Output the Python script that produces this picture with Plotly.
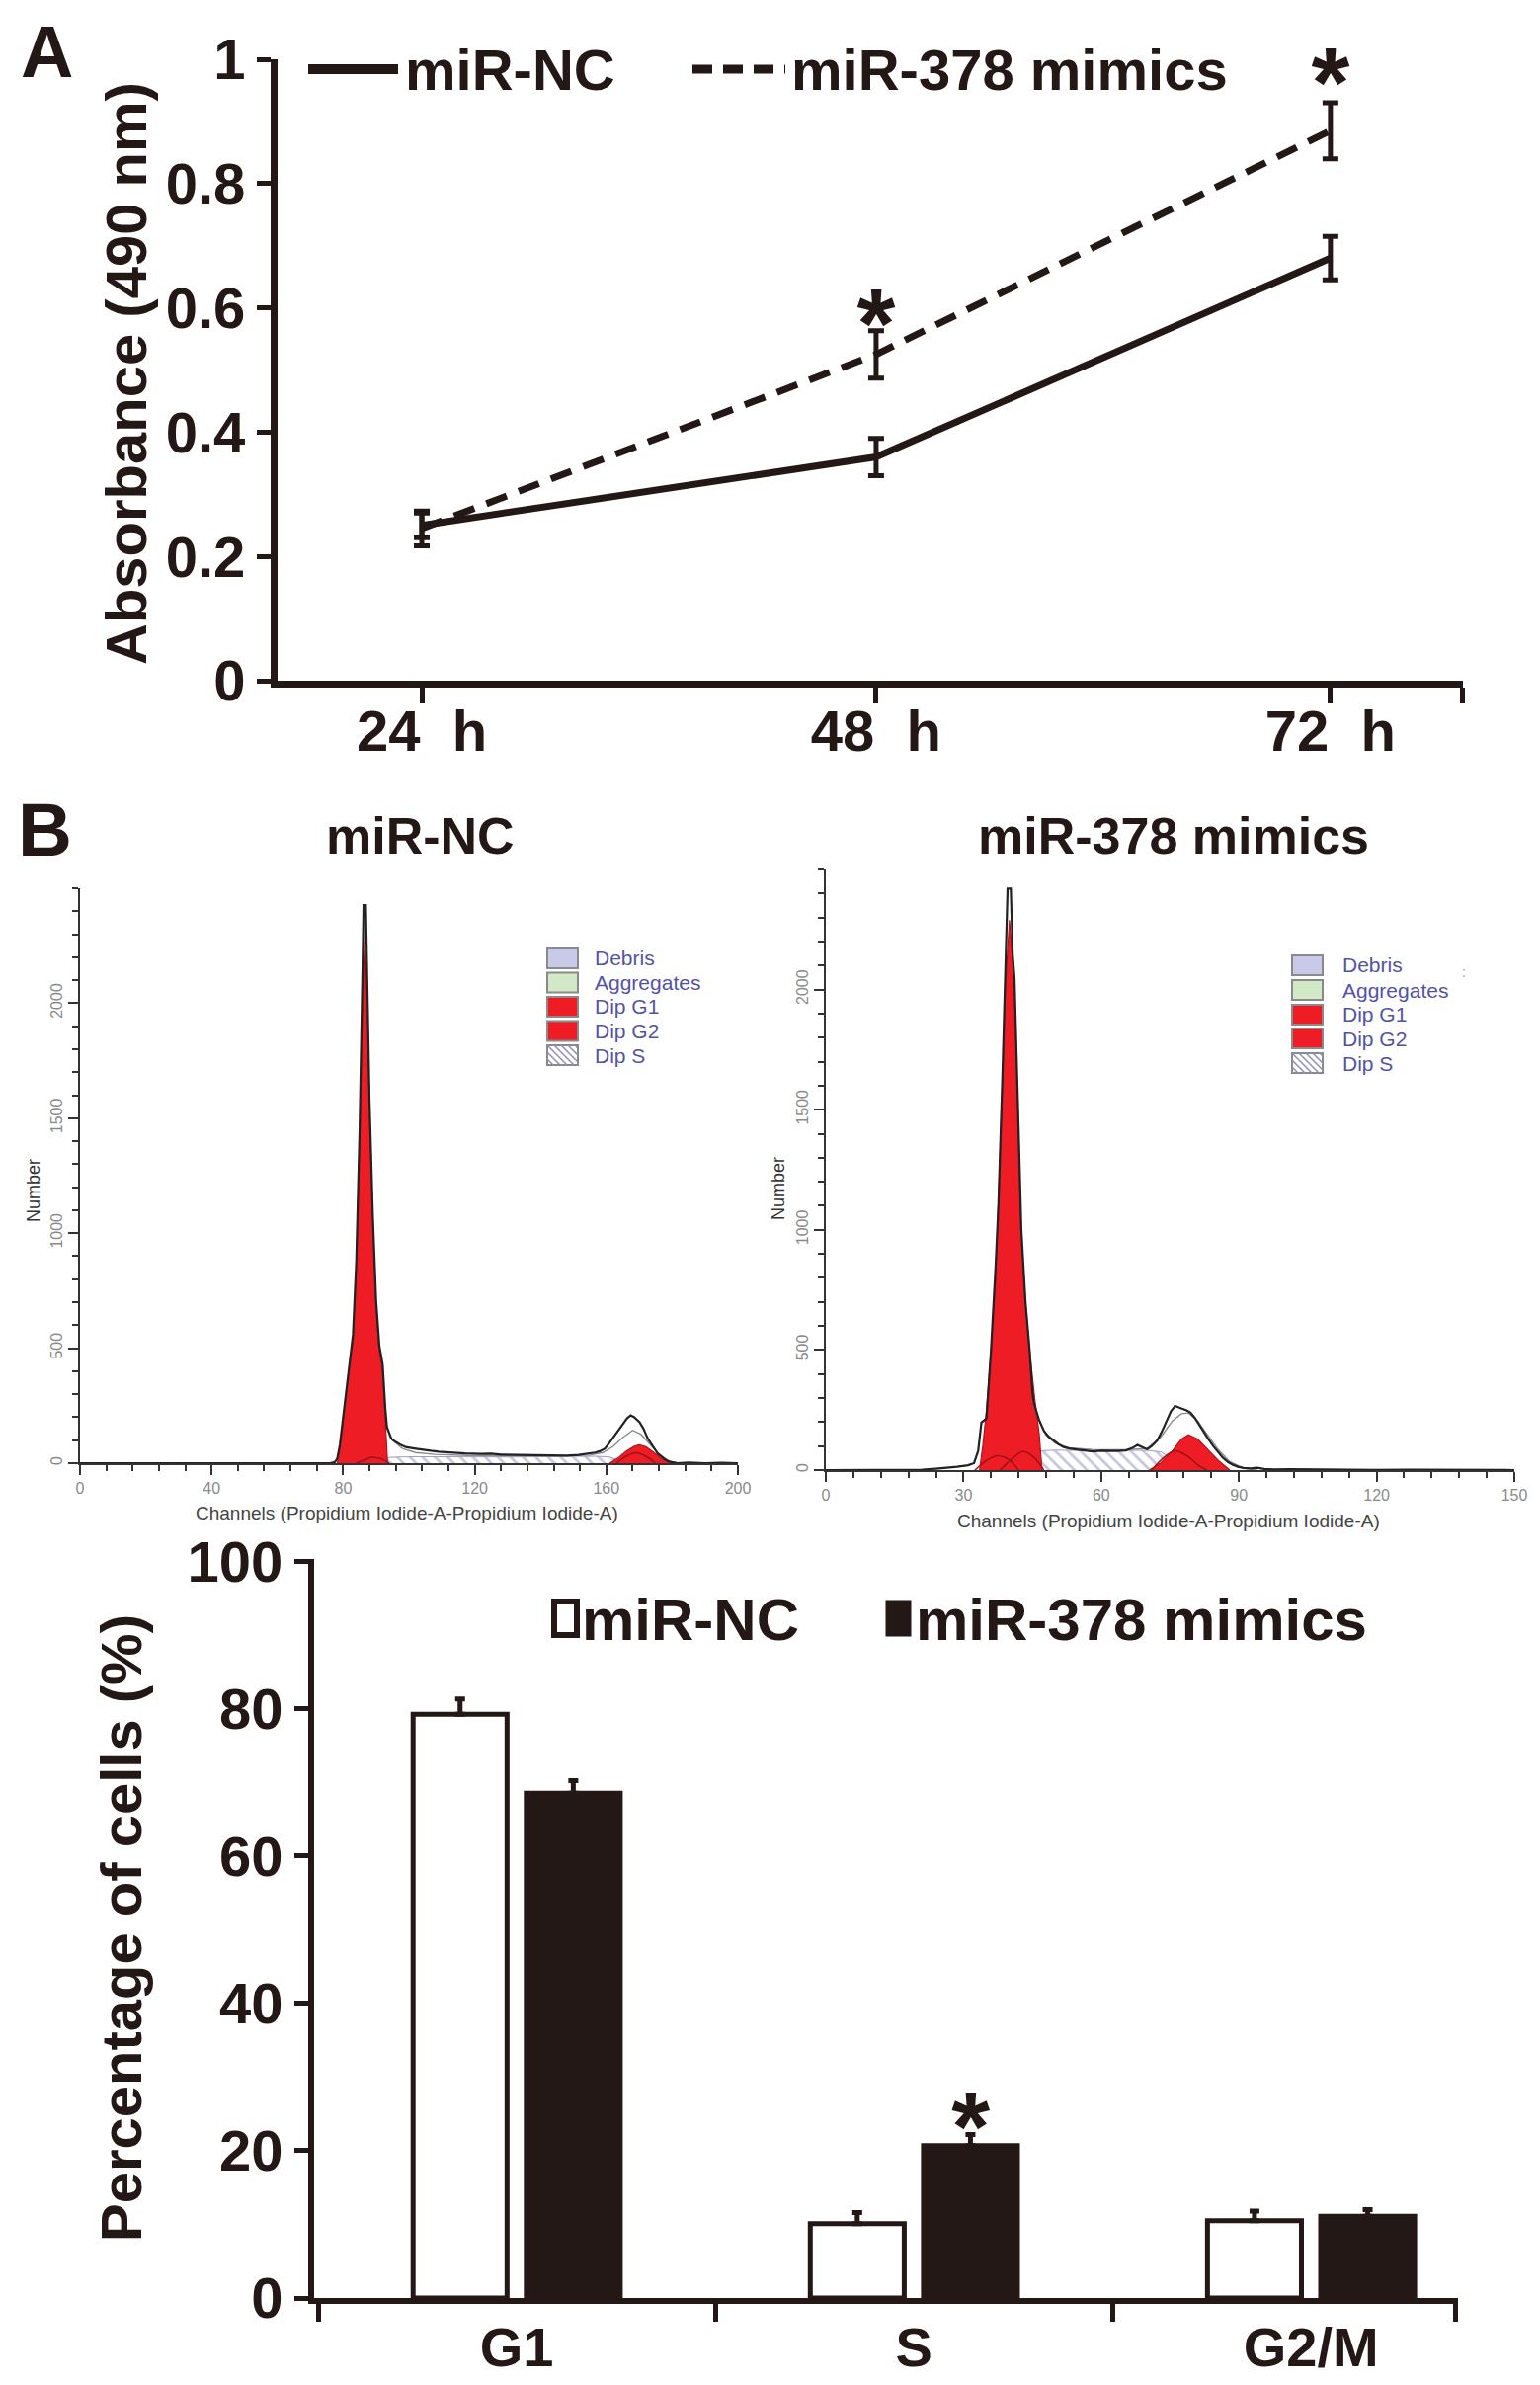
import plotly.graph_objects as go

PAGE_W, PAGE_H = 1559, 2414
OFF = 8  # default body margin of the written page
W, H = PAGE_W - OFF, PAGE_H - OFF
INK = "#231815"
RED = "#ee1c25"
DARKRED = "#9c1218"
SANS = "Liberation Sans, Arial, Helvetica, sans-serif"

# ---- panel A: absorbance at 490 nm
hours = [24, 48, 72]
hour_labels = ["24  h", "48  h", "72  h"]
nc_abs = [0.25, 0.36, 0.68]
nc_abs_err = [0.02, 0.03, 0.035]
mimic_abs = [0.245, 0.525, 0.885]
mimic_abs_err = [0.028, 0.038, 0.045]
abs_ticks = [0, 0.2, 0.4, 0.6, 0.8, 1]
abs_tick_labels = ["0", "0.2", "0.4", "0.6", "0.8", "1"]
abs_star_x = [48, 72]
abs_star_y = [0.56, 0.948]

# ---- panel B: flow cytometry histograms (channel, count)
nc_total = [(0, 0), (60, 0), (76, 0), (77.5, 5), (78.2, 20), (79, 80), (80, 200), (81, 340),
            (82, 450), (83, 560), (84, 880), (85, 1450), (85.9, 2150), (86.2, 2427), (86.9, 2427),
            (87.2, 2150), (88, 1580), (89, 1080), (90, 710), (91, 510), (92, 430), (92.8, 240),
            (93.3, 158), (94.6, 107), (96, 92), (97.6, 79), (99, 70), (101.6, 64), (104, 58),
            (106.6, 54), (109, 50), (111.6, 47), (114, 45), (117, 42), (121.6, 40), (125, 41),
            (128, 37), (131.6, 36), (135, 35), (138, 33), (141.6, 32), (145, 34), (148, 33),
            (151.6, 36), (154, 40), (156.6, 46), (158, 52), (159.6, 64), (161, 90), (162.6, 122),
            (164, 150), (165.1, 172), (166.3, 195), (167.4, 208), (168.5, 200), (170.1, 179),
            (171.3, 150), (172.6, 107), (174, 75), (175.6, 43), (177.5, 20), (179.1, 7),
            (181.6, 0), (185, 3), (190, 0), (195, 2), (200, 0)]
nc_g1 = [(78.2, 0), (79, 60), (80, 180), (81, 320), (82, 430), (83, 530), (84, 850), (85, 1400),
         (86, 2050), (86.6, 2269), (87.2, 2050), (88, 1550), (89, 1050), (90, 680), (91, 480),
         (92, 400), (92.8, 200), (93.5, 0)]
nc_g2 = [(161, 0), (163.5, 22), (166, 52), (168.5, 74), (170, 80), (172, 72), (174.5, 46),
         (177, 18), (179.5, 3), (181, 0)]
nc_s = [(90, 0), (91, 14), (93, 24), (97, 27), (103, 28), (110, 27), (120, 28), (130, 27),
        (140, 28), (150, 29), (157, 30), (161, 27), (163.5, 14), (166, 0)]
nc_arcs = [[(84, 0), (86.5, 14), (89, 26), (91.5, 19), (94, 0)],
           [(163, 0), (166, 30), (169, 45), (172, 30), (175, 0)]]
nc_fit = [(93.3, 150), (95, 100), (98, 64), (102, 46), (108, 38), (118, 33), (130, 31),
          (145, 31), (155, 35), (159, 46), (162, 72), (165, 112), (168, 143), (170.5, 126),
          (173, 86), (176, 40), (179, 9), (182, 0)]
nc_means = [87.2, 167.7]

mim_total = [(0, 0), (18, 0), (21, 2), (24, 6), (26, 9), (28.6, 14), (31, 20), (32.3, 29),
             (33.2, 80), (33.9, 198), (35, 215), (36, 500), (37, 850), (37.6, 1100), (38.5, 1650),
             (39.1, 2050), (39.6, 2420), (40.3, 2420), (40.7, 2150), (41.1, 2050), (42, 1450),
             (42.6, 1000), (43.5, 700), (44.4, 500), (45, 330), (45.3, 281), (46.4, 212),
             (47.5, 164), (48.5, 140), (49.6, 123), (50.7, 108), (51.8, 96), (53, 90), (54.6, 86),
             (56.5, 81), (58.2, 78), (60, 81), (61.8, 79), (63.5, 80), (65.4, 82), (66.8, 92),
             (67.9, 105), (69, 95), (70, 86), (71, 100), (72.2, 123), (73.2, 160), (74.3, 205),
             (75.2, 245), (76.1, 267), (77, 262), (77.6, 256), (78.5, 250), (79.4, 240),
             (80.3, 220), (81.2, 192), (82.2, 160), (83.3, 130), (84.4, 100), (85.5, 75),
             (86.5, 52), (87.6, 34), (88.7, 22), (89.8, 14), (91, 9), (92.6, 7), (94, 10),
             (95.5, 5), (97.6, 3), (101, 4), (105, 3), (110, 2), (115, 3), (120, 1), (127, 2),
             (135, 1), (140, 0), (150, 0)]
mim_g1 = [(33.5, 0), (34.2, 100), (35, 250), (36, 500), (37, 800), (37.4, 1000), (38.5, 1600),
          (39.1, 2000), (40, 2289), (40.6, 2150), (41.1, 2000), (42, 1400), (42.5, 1000),
          (43.5, 700), (44.4, 500), (45.5, 300), (46.5, 150), (47.1, 0)]
mim_g2 = [(70.5, 0), (73, 30), (75.5, 80), (77.5, 130), (79, 147), (81, 130), (83, 90),
          (85.5, 40), (88, 0)]
mim_s = [(44, 0), (45, 55), (46.5, 80), (50, 83), (55, 82), (60, 82), (65, 81), (70, 82),
         (73, 76), (75, 52), (77, 22), (79, 0)]
mim_arcs = [[(32.5, 0), (35, 40), (37.5, 60), (40, 42), (42, 0)],
            [(38, 0), (40.5, 45), (43, 78), (45.5, 50), (47.5, 0)],
            [(71, 0), (73.5, 50), (76, 80), (78.5, 62), (81, 22), (83, 0)]]
mim_fit = [(45, 290), (46.5, 205), (48, 145), (50, 112), (53, 93), (58, 86), (65, 84), (70, 90),
           (73, 138), (75.5, 205), (77.5, 235), (79, 238), (81, 205), (83, 150), (85.5, 85),
           (88, 35), (91, 8), (94, 0)]
mim_means = [40.2, 76.2]

model_names = ["Debris", "Aggregates", "Dip G1", "Dip G2", "Dip S"]
model_colors = ["#c9c9e9", "#d2e9c7", RED, RED, "white"]

# ---- panel B: cell-cycle distribution (%)
phases = ["G1", "S", "G2/M"]
nc_pct = [79.2, 10.1, 10.5]
nc_pct_err = [2.1, 1.5, 1.3]
mimic_pct = [68.5, 20.7, 11.1]
mimic_pct_err = [1.7, 1.5, 0.9]
pct_star_phase = [1.143]
pct_star_y = [22.0]


# page pixel -> paper fraction
def px(x):
    return (x - OFF) / W


def py(y):
    return 1 - (y - OFF) / H


def unzip(pairs):
    return [p[0] for p in pairs], [p[1] for p in pairs]


fig = go.Figure()

# panel A lines
for vals, errs, dash in [(nc_abs, nc_abs_err, "solid"), (mimic_abs, mimic_abs_err, "22px,13px")]:
    fig.add_trace(go.Scatter(
        x=hours, y=vals, mode="lines", line=dict(color=INK, width=7, dash=dash),
        error_y=dict(type="data", array=errs, color=INK, thickness=5, width=8),
        xaxis="x", yaxis="y", showlegend=False))
fig.add_trace(go.Scatter(
    x=abs_star_x, y=abs_star_y, mode="text", text=["*"] * len(abs_star_x),
    textfont=dict(family=SANS, size=100, color=INK, weight="bold"),
    xaxis="x", yaxis="y", showlegend=False, cliponaxis=False))


def add_hist(xa, ya, s_band, g1, g2, arcs, fit, total, means, mark_y):
    x, y = unzip(s_band)
    fig.add_trace(go.Scatter(
        x=x, y=y, mode="lines", fill="tozeroy", line=dict(color="#9d9dc8", width=1),
        fillpattern=dict(shape="\\", fgcolor="#8c8cc2", bgcolor="white", size=9, solidity=0.3),
        xaxis=xa, yaxis=ya, showlegend=False))
    for comp in (g1, g2):
        x, y = unzip(comp)
        fig.add_trace(go.Scatter(
            x=x, y=y, mode="lines", fill="tozeroy", fillcolor=RED,
            line=dict(color="#b3121a", width=1.2), xaxis=xa, yaxis=ya, showlegend=False))
    for arc in arcs:
        x, y = unzip(arc)
        fig.add_trace(go.Scatter(
            x=x, y=y, mode="lines", line=dict(color=DARKRED, width=1.5, shape="spline"),
            xaxis=xa, yaxis=ya, showlegend=False))
    x, y = unzip(fit)
    fig.add_trace(go.Scatter(
        x=x, y=y, mode="lines", line=dict(color="#8a8a8a", width=1.4),
        xaxis=xa, yaxis=ya, showlegend=False))
    x, y = unzip(total)
    fig.add_trace(go.Scatter(
        x=x, y=y, mode="lines", line=dict(color="#222222", width=2.2),
        xaxis=xa, yaxis=ya, showlegend=False))
    fig.add_trace(go.Scatter(
        x=means, y=[mark_y] * len(means), mode="markers",
        marker=dict(symbol="triangle-up", size=20, color="#111111"),
        xaxis=xa, yaxis=ya, showlegend=False, cliponaxis=False))


add_hist("x2", "y2", nc_s, nc_g1, nc_g2, nc_arcs, nc_fit, nc_total, nc_means, -46)
add_hist("x3", "y3", mim_s, mim_g1, mim_g2, mim_arcs, mim_fit, mim_total, mim_means, -44)

# bar chart
fig.add_trace(go.Bar(
    x=list(range(len(phases))), y=nc_pct,
    marker=dict(color="white", line=dict(color=INK, width=5)),
    error_y=dict(type="data", symmetric=False, array=nc_pct_err, arrayminus=[0] * len(phases),
                 color=INK, thickness=5, width=5),
    xaxis="x4", yaxis="y4", showlegend=False))
fig.add_trace(go.Bar(
    x=list(range(len(phases))), y=mimic_pct,
    marker=dict(color=INK, line=dict(color=INK, width=5)),
    error_y=dict(type="data", symmetric=False, array=mimic_pct_err, arrayminus=[0] * len(phases),
                 color=INK, thickness=5, width=5),
    xaxis="x4", yaxis="y4", showlegend=False))
fig.add_trace(go.Scatter(
    x=pct_star_phase, y=pct_star_y, mode="text", text=["*"],
    textfont=dict(family=SANS, size=100, color=INK, weight="bold"),
    xaxis="x4", yaxis="y4", showlegend=False, cliponaxis=False))

bold_tick = dict(family=SANS, size=58, color=INK, weight="bold")
hist_tick = dict(family=SANS, size=16, color="#8a8a8a")
hist_common = dict(showline=True, linecolor="#333333", linewidth=2, ticks="outside", ticklen=10,
                   tickwidth=2, tickcolor="#333333", tickfont=hist_tick, showgrid=False,
                   zeroline=False, automargin=False)

fig.update_layout(
    width=W, height=H, margin=dict(l=0, r=0, t=0, b=0, autoexpand=False),
    paper_bgcolor="white", plot_bgcolor="white",
    barmode="group", bargap=0.43, bargroupgap=0.17,
    xaxis=dict(domain=[px(281), px(1481)], range=[16.38, 79], anchor="y",
               tickmode="array", tickvals=hours + [78.95], ticktext=hour_labels + [""],
               showline=True, linecolor=INK, linewidth=7, ticks="outside", ticklen=16,
               tickwidth=5, tickcolor=INK, tickfont=bold_tick, ticklabelstandoff=-22,
               showgrid=False, zeroline=False, automargin=False),
    yaxis=dict(domain=[py(689), py(60)], range=[0, 1], anchor="x",
               tickmode="array", tickvals=abs_ticks, ticktext=abs_tick_labels,
               showline=True, linecolor=INK, linewidth=7, ticks="outside", ticklen=14,
               tickwidth=5, tickcolor=INK, tickfont=bold_tick, showgrid=False, zeroline=False,
               automargin=False),
    xaxis2=dict(domain=[px(81), px(747)], range=[0, 200], anchor="y2", dtick=40, tick0=0,
                minor=dict(dtick=8, tick0=0, ticks="outside", ticklen=6, tickwidth=1.5,
                           tickcolor="#333333"), **hist_common),
    yaxis2=dict(domain=[py(1481), py(899)], range=[0, 2500], anchor="x2", tickmode="array",
                tickvals=[0, 500, 1000, 1500, 2000], tickangle=-90,
                minor=dict(dtick=100, tick0=0, ticks="outside", ticklen=6, tickwidth=1.5,
                           tickcolor="#333333"), **hist_common),
    xaxis3=dict(domain=[px(836), px(1533)], range=[0, 150], anchor="y3", dtick=30, tick0=0,
                minor=dict(dtick=6, tick0=0, ticks="outside", ticklen=6, tickwidth=1.5,
                           tickcolor="#333333"), **hist_common),
    yaxis3=dict(domain=[py(1488), py(880)], range=[0, 2500], anchor="x3", tickmode="array",
                tickvals=[0, 500, 1000, 1500, 2000], tickangle=-90,
                minor=dict(dtick=100, tick0=0, ticks="outside", ticklen=6, tickwidth=1.5,
                           tickcolor="#333333"), **hist_common),
    xaxis4=dict(domain=[px(318), px(1476)], range=[-0.51, 2.37], anchor="y4",
                tickmode="array", tickvals=list(range(len(phases))), ticktext=phases,
                showline=True, linecolor=INK, linewidth=6, ticks="outside", ticklen=0,
                tickcolor=INK, tickfont=dict(family=SANS, size=56, color=INK, weight="bold"),
                ticklabelstandoff=-4,
                minor=dict(tickmode="array", tickvals=[-0.5, 0.5, 1.5, 2.365], ticks="outside",
                           ticklen=18, tickwidth=5, tickcolor=INK),
                showgrid=False, zeroline=False, automargin=False),
    yaxis4=dict(domain=[py(2326), py(1578)], range=[0, 100.3], anchor="x4",
                tickmode="array", tickvals=[0, 20, 40, 60, 80, 100],
                showline=True, linecolor=INK, linewidth=6, ticks="outside", ticklen=14,
                tickwidth=5, tickcolor=INK, tickfont=bold_tick, showgrid=False, zeroline=False,
                automargin=False),
)

ann = []
shapes = []


def text(x, y, s, size, color=INK, bold=True, anchor="center", angle=0, vanchor="middle"):
    ann.append(dict(x=px(x), y=py(y), xref="paper", yref="paper", text=s, showarrow=False,
                    xanchor=anchor, yanchor=vanchor, textangle=angle,
                    font=dict(family=SANS, size=size, color=color,
                              weight="bold" if bold else "normal")))


text(47, 9, "A", 74, vanchor="top")
text(45, 840, "B", 76)
text(127, 378, "Absorbance (490 nm)", 58, angle=-90)
text(122, 1952, "Percentage of cells (%)", 58, angle=-90)
text(425, 846, "miR-NC", 52)
text(1188, 846, "miR-378 mimics", 52)
text(412, 1531, "Channels (Propidium Iodide-A-Propidium Iodide-A)", 19, color="#444444", bold=False)
text(1183, 1539, "Channels (Propidium Iodide-A-Propidium Iodide-A)", 19, color="#444444", bold=False)
text(34, 1205, "Number", 18, color="#333333", bold=False, angle=-90)
text(788, 1203, "Number", 18, color="#333333", bold=False, angle=-90)
text(1482, 984, ":", 14, color="#9a9a9a", bold=False)

# panel A legend
shapes.append(dict(type="line", xref="paper", yref="paper", x0=px(312), x1=px(403), y0=py(70),
                   y1=py(70), line=dict(color=INK, width=10)))
shapes.append(dict(type="line", xref="paper", yref="paper", x0=px(701), x1=px(795), y0=py(70),
                   y1=py(70), line=dict(color=INK, width=9, dash="20px,11px")))
text(408, 70, "miR-NC", 58, anchor="left")
text(799, 70, "miR-378 mimics", 58, anchor="left")

# bar legend
shapes.append(dict(type="rect", xref="paper", yref="paper", x0=px(561), x1=px(584), y0=py(1621),
                   y1=py(1655), fillcolor="white", line=dict(color=INK, width=6)))
shapes.append(dict(type="rect", xref="paper", yref="paper", x0=px(898), x1=px(921), y0=py(1621),
                   y1=py(1655), fillcolor=INK, line=dict(color=INK, width=3)))
text(587, 1639, "miR-NC", 60, anchor="left")
text(925, 1639, "miR-378 mimics", 60, anchor="left")

# histogram legends
for bx, tx, centers in [(554, 600, [970, 994.5, 1019, 1043.5, 1068]),
                        (1308, 1357, [977, 1002, 1027, 1051, 1076])]:
    for name, col, cy in zip(model_names, model_colors, centers):
        x0, x1, y0, y1 = bx, bx + 31, cy - 10, cy + 10
        shapes.append(dict(type="rect", xref="paper", yref="paper", x0=px(x0), x1=px(x1),
                           y0=py(y0), y1=py(y1), fillcolor=col,
                           line=dict(color="#8a8a8a", width=2)))
        if name == "Dip S":
            h = y1 - y0
            for a in range(x0 - 14, x1, 7):
                sx, sy = a, y0
                ex, ey = a + h, y1
                if sx < x0:
                    sy = y0 + (x0 - sx)
                    sx = x0
                if ex > x1:
                    ey = y0 + (x1 - a)
                    ex = x1
                if ex > sx:
                    shapes.append(dict(type="line", xref="paper", yref="paper", x0=px(sx),
                                       x1=px(ex), y0=py(sy), y1=py(ey),
                                       line=dict(color="#8c8cc2", width=1.5)))
        text(tx, cy, name, 21, color="#5353a6", bold=False, anchor="left")

fig.update_layout(annotations=ann, shapes=shapes)
fig.write_html("out.html")
